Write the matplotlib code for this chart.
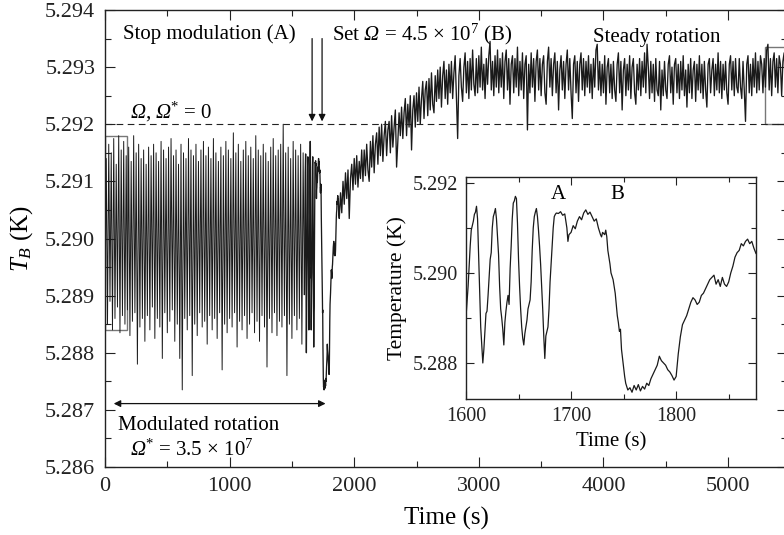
import numpy as np
import matplotlib
matplotlib.use("Agg")
import matplotlib.pyplot as plt
from matplotlib.ticker import MultipleLocator, FormatStrFormatter
from matplotlib.patches import Rectangle

plt.rcParams['font.family'] = ['Liberation Serif', 'DejaVu Serif']
plt.rcParams['mathtext.fontset'] = 'custom'
plt.rcParams['mathtext.rm'] = 'Liberation Serif'
plt.rcParams['mathtext.it'] = 'Liberation Serif:italic'
# the "bf" slot is used for the italic capital Omega of the original figure
plt.rcParams['mathtext.bf'] = 'Liberation Serif:italic'

# ---------------- data (temperature in microkelvin above 5.290 K) ----------------
BASE_K = 5.290

# modulated rotation, samples every 10 s from t = 0 s
mod_t0, mod_dt = 0, 10
mod_uK = [
    -1300, 1400, -1500, 1650, -1100, 1500, -1600, 1750, -1400, 1300,
    -1200, 1800, -1650, 1550, -1350, 1700, -1500, 1450, -1250, 1600,
    -1700, 1350, -1450, 1800, -1300, 1500, -2200, 1650, -1550, 1400,
    -1400, 1550, -1800, 1300, -1350, 1600, -1600, 1450, -1200, 1650,
    -1750, 1500, -1400, 1350, -1550, 1700, -2100, 1550, -1300, 1400,
    -1650, 1600, -1450, 1750, -1250, 1450, -1800, 1550, -1500, 1300,
    -2100, 1650, -2650, 1500, -1400, 1400, -1600, 1750, -1350, 1550,
    -2400, 1450, -1500, 1650, -1700, 1350, -1300, 1550, -1550, 1700,
    -1450, 1450, -1850, 1600, -1350, 1400, -1600, 1750, -1400, 1500,
    -1750, 1350, -1300, 1600, -2300, 1450, -1500, 1700, -1650, 1550,
    -1400, 1400, -1550, 1850, -1300, 1500, -1900, 1650, -1450, 1350,
    -1600, 1550, -1350, 1700, -1750, 1450, -1500, 1600, -1300, 1400,
    -1650, 1800, -1450, 1550, -1800, 1450, -1350, 1650, -1550, 1500,
    -2250, 1350, -1400, 1600, -1650, 1750, -1300, 1450, -1700, 1550,
    -1450, 1650, -1550, 2000, -1350, 1500, -2400, 1600, -1500, 1400,
    -1750, 1700, -1350, 1550, -1600, 1450, -1400, 1650, -1850, 1500,
]

# stop modulation / set rotation (region shown in the inset)
detail_t = [
    1600, 1602, 1604, 1605, 1607, 1608, 1609, 1610, 1611, 1612, 1613, 1614, 1616, 1617, 1618, 1619,
    1620, 1621, 1622, 1623, 1624, 1625, 1626, 1627, 1628, 1629, 1630, 1631, 1632, 1633, 1634, 1635,
    1636, 1637, 1638, 1639, 1640, 1641, 1642, 1643, 1644, 1645, 1646, 1647, 1648, 1649, 1650, 1651,
    1652, 1653, 1654, 1655, 1656, 1657, 1658, 1659, 1660, 1661, 1662, 1663, 1664, 1665, 1666, 1667,
    1668, 1669, 1670, 1671, 1672, 1673, 1674, 1675, 1676, 1677, 1678, 1679, 1680, 1681, 1682, 1683,
    1684, 1685, 1686, 1688, 1690, 1692, 1694, 1696, 1697, 1698, 1700, 1702, 1704, 1706, 1708, 1710,
    1712, 1714, 1716, 1718, 1720, 1722, 1724, 1726, 1728, 1729, 1730, 1732, 1733, 1734, 1735, 1736,
    1737, 1738, 1740, 1742, 1744, 1745, 1746, 1747, 1748, 1749, 1750, 1751, 1752, 1754, 1756, 1758,
    1760, 1762, 1764, 1766, 1768, 1770, 1772, 1774, 1776, 1778, 1780, 1782, 1784, 1786, 1788, 1790,
    1792, 1794, 1796, 1798, 1800, 1802, 1804, 1806, 1808, 1810, 1812, 1814, 1816, 1818, 1820, 1822,
    1824, 1826, 1828, 1830, 1832, 1834, 1836, 1838, 1840, 1842, 1844, 1846, 1848, 1850, 1852, 1854,
    1856, 1858, 1860, 1862, 1864, 1866, 1868, 1870, 1872, 1874, 1876,
]
detail_uK = [
    -980, -300, 600, 950, 1150, 1300, 1350, 1480, 1200, 400, -400, -1200, -2000, -1700, -1300, -900,
    -850, -500, -100, 300, 450, 1000, 1250, 1330, 1430, 1200, 800, 400, -300, -800, -1000, -1250,
    -1600, -1100, -850, -650, -500, -700, 100, 600, 1200, 1550, 1600, 1700, 1650, 1100, 300, -300,
    -800, -1200, -1450, -1600, -1350, -1200, -1050, -800, -700, -600, -200, 500, 1000, 1250, 1350, 1430,
    1250, 950, 600, 200, -300, -800, -1400, -1900, -1400, -1300, -1200, -800, -200, 200, 600, 1000,
    1250, 1300, 1330, 1320, 1360, 1280, 1310, 1000, 700, 850, 900, 1050, 980, 1150, 1250, 1180,
    1330, 1400, 1300, 1350, 1250, 1150, 1200, 1000, 850, 800, 900, 850, 950, 800, 500, 350,
    200, 0, -150, -450, -950, -1100, -1300, -1250, -1700, -1900, -2100, -2300, -2450, -2600, -2550, -2650,
    -2500, -2600, -2480, -2620, -2520, -2580, -2450, -2500, -2350, -2250, -2150, -2050, -1850, -1950, -2000, -2050,
    -2150, -2200, -2280, -2380, -2300, -1800, -1420, -1150, -1050, -950, -800, -650, -550, -600, -700, -650,
    -500, -450, -350, -250, -150, -100, -50, -250, -150, -300, -100, -250, -300, -200, 0, 150,
    350, 450, 500, 650, 600, 700, 750, 650, 700, 550, 430,
]

# recovery and steady rotation, samples every 10 s from t = 1880 s
steady_t0, steady_dt = 1880, 10
steady_uK = [
    350, 800, 450, 1000, 600, 1150, 700, 1200, 350, 1050,
    1300, 850, 1400, 950, 1450, 900, 1350, 1050, 1550, 1000,
    1550, 1100, 1650, 1200, 1000, 1700, 1250, 1800, 1150, 1650,
    1850, 1300, 1950, 1450, 2000, 1350, 1800, 2050, 1450, 1900,
    2050, 1500, 2150, 1600, 1950, 2250, 1250, 1700, 2200, 1800,
    2300, 1750, 2200, 2450, 1800, 2350, 1950, 2500, 1550, 2250,
    2500, 1950, 2550, 2050, 2650, 2000, 2450, 2750, 2100, 2600,
    2750, 2150, 2800, 2250, 2900, 2350, 2200, 2850, 2400, 2950,
    2450, 3000, 2300, 2850, 3100, 2450, 2950, 2350, 3050, 2550,
    3100, 2450, 2900, 3200, 2500, 1750, 2850, 3150, 2650, 2400,
    3000, 3250, 2550, 3100, 2450, 3150, 2600, 3300, 2700, 2500,
    3150, 2550, 3200, 2650, 3350, 2600, 3050, 2450, 3150, 2700,
    3200, 3450, 2600, 3100, 2500, 3200, 2650, 3300, 2550, 3150,
    2650, 3250, 2450, 3100, 3300, 2600, 3150, 2350, 3050, 3200,
    2550, 3150, 2650, 3350, 2500, 3100, 2600, 3250, 2450, 3050,
    3200, 1900, 3050, 2550, 3250, 2650, 3150, 2400, 3100, 3300,
    2600, 3150, 2500, 3050, 3200, 2550, 2350, 3100, 3350, 2650,
    3150, 2500, 3050, 3250, 2550, 3100, 2250, 2950, 3200, 2600,
    3100, 2450, 3050, 3300, 2600, 3150, 2550, 2100, 3050, 3200,
    2550, 3100, 2400, 3050, 3250, 2600, 3150, 2500, 3100, 2650,
    3200, 2550, 3050, 2450, 3150, 2650, 3300, 3400, 2600, 3100,
    2500, 3050, 2550, 3200, 2350, 3000, 3150, 2550, 3050, 2450,
    3100, 2600, 2400, 3050, 3250, 2550, 3100, 2250, 2950, 3150,
    2500, 3050, 2600, 3200, 2450, 3000, 3150, 2550, 2350, 3050,
    2600, 3150, 2500, 3100, 2650, 3250, 2550, 3400, 3000, 2450,
    3100, 2550, 3050, 2400, 3150, 2600, 2500, 3100, 2250, 2950,
    2500, 3100, 2600, 2450, 3050, 3200, 2550, 3000, 2350, 3050,
    3150, 2550, 3050, 2450, 3100, 2600, 3200, 2500, 2950, 2300,
    3050, 2550, 3150, 2450, 2950, 3100, 2400, 3050, 2600, 3200,
    2550, 3050, 2450, 3100, 2600, 2300, 3050, 3150, 2550, 2950,
    3150, 2500, 3050, 2600, 3250, 2550, 3100, 2450, 3050, 2600,
    3100, 2550, 2350, 3050, 3200, 2600, 3100, 2500, 3150, 2650,
    2550, 3150, 2650, 2450, 3100, 2600, 2050, 3050, 3200, 2550,
    3050, 2500, 3150, 2650, 3250, 2550, 3100, 2600, 3200, 3050,
    2550, 3150, 2650, 3300, 3400, 2600, 3150, 2500, 3100, 3250,
    2650, 3150, 2550, 3200, 3050, 2500, 3100, 3250, 2600, 3100,
]

# ---------------- assemble ----------------
mod_t = mod_t0 + mod_dt * np.arange(len(mod_uK))
steady_t = steady_t0 + steady_dt * np.arange(len(steady_uK))
t_all = np.concatenate([mod_t, np.array(detail_t), steady_t])
T_all = BASE_K + 1e-6 * np.concatenate([mod_uK, detail_uK, steady_uK])
n_mod = len(mod_uK)

W, H = 784, 535
fig = plt.figure(figsize=(W / 100, H / 100), dpi=100)

# main axes
ax = fig.add_axes([105 / W, (H - 467) / H, (787 - 105) / W, 457 / H])
ax.plot(t_all[:n_mod + 1], T_all[:n_mod + 1], color='#1a1a1a', lw=0.7)
ax.plot(t_all[n_mod:], T_all[n_mod:], color='#1a1a1a', lw=0.95)
ax.axhline(5.292, color='#222222', lw=0.8, ls=(0, (6, 4)))
ax.set_xlim(0, 5473)
ax.set_ylim(5.286, 5.294)
ax.xaxis.set_major_locator(MultipleLocator(1000))
ax.xaxis.set_minor_locator(MultipleLocator(500))
ax.yaxis.set_major_locator(MultipleLocator(0.001))
ax.yaxis.set_minor_locator(MultipleLocator(0.0005))
ax.yaxis.set_major_formatter(FormatStrFormatter('%.3f'))
ax.tick_params(which='both', direction='in', top=True, right=True, width=0.8, colors='#222222')
ax.tick_params(which='major', length=7, labelsize=16, pad=7)
ax.tick_params(which='minor', length=4)
for s in ax.spines.values():
    s.set_linewidth(1.0)
    s.set_color('#222222')
ax.set_xlabel('Time (s)', fontsize=18, labelpad=8)
ax.set_ylabel(r'$T_B$ (K)', fontsize=18, labelpad=7)

# zoom boxes
ax.add_patch(Rectangle((0, 5.2884), 180, 0.0034, fill=False, ec='#777777', lw=1.0))
ax.add_patch(Rectangle((5300, 5.2920), 400, 0.00135, fill=False, ec='#777777', lw=1.0, clip_on=True))

# annotations
fs = 15
ax.text(145, 5.29357, 'Stop modulation (A)', fontsize=fs, va='center', ha='left')
ax.text(1820, 5.29357, r'Set $\mathbf{\Omega}$ = 4.5 $\times$ 10$^{7}$ (B)', fontsize=fs, va='center', ha='left')
ax.text(3920, 5.29352, 'Steady rotation', fontsize=fs, va='center', ha='left')
ax.text(200, 5.29222, r'$\mathbf{\Omega}$, $\mathbf{\Omega}^{*}$ = 0', fontsize=fs, va='center', ha='left')
for xa in (1662, 1742):
    ax.annotate('', xy=(xa, 5.29205), xytext=(xa, 5.29350),
                arrowprops=dict(arrowstyle='-|>', color='#111111', lw=0.9,
                                mutation_scale=10, shrinkA=0, shrinkB=0))
ax.annotate('', xy=(70, 5.28711), xytext=(1770, 5.28711),
            arrowprops=dict(arrowstyle='<|-|>', color='#111111', lw=0.9,
                            mutation_scale=10, shrinkA=0, shrinkB=0))
ax.text(105, 5.28673, 'Modulated rotation', fontsize=fs, va='center', ha='left')
ax.text(200, 5.28630, r'$\mathbf{\Omega}^{*}$ = 3.5 $\times$ 10$^{7}$', fontsize=fs, va='center', ha='left')

# inset
ins = fig.add_axes([466 / W, (H - 399) / H, 290 / W, 222 / H])
ins.set_facecolor('white')
ins.plot(t_all, T_all, color='#1a1a1a', lw=0.9)
ins.set_xlim(1600, 1876)
ins.set_ylim(5.2872, 5.29213)
ins.xaxis.set_major_locator(MultipleLocator(100))
ins.xaxis.set_minor_locator(MultipleLocator(50))
ins.yaxis.set_major_locator(MultipleLocator(0.002))
ins.yaxis.set_minor_locator(MultipleLocator(0.001))
ins.yaxis.set_major_formatter(FormatStrFormatter('%.3f'))
ins.tick_params(which='both', direction='in', top=True, right=True, width=0.8, colors='#222222')
ins.tick_params(which='major', length=6, labelsize=14.5, pad=6)
ins.tick_params(which='minor', length=3.5)
for s in ins.spines.values():
    s.set_linewidth(1.0)
    s.set_color('#222222')
ins.set_xlabel('Time (s)', fontsize=15, labelpad=4)
ins.set_ylabel('Temperature (K)', fontsize=15.5, labelpad=4)
ins.text(1688, 5.29174, 'A', fontsize=15, ha='center', va='center')
ins.text(1744, 5.29174, 'B', fontsize=15, ha='center', va='center')

fig.savefig('out.png', dpi=100)
